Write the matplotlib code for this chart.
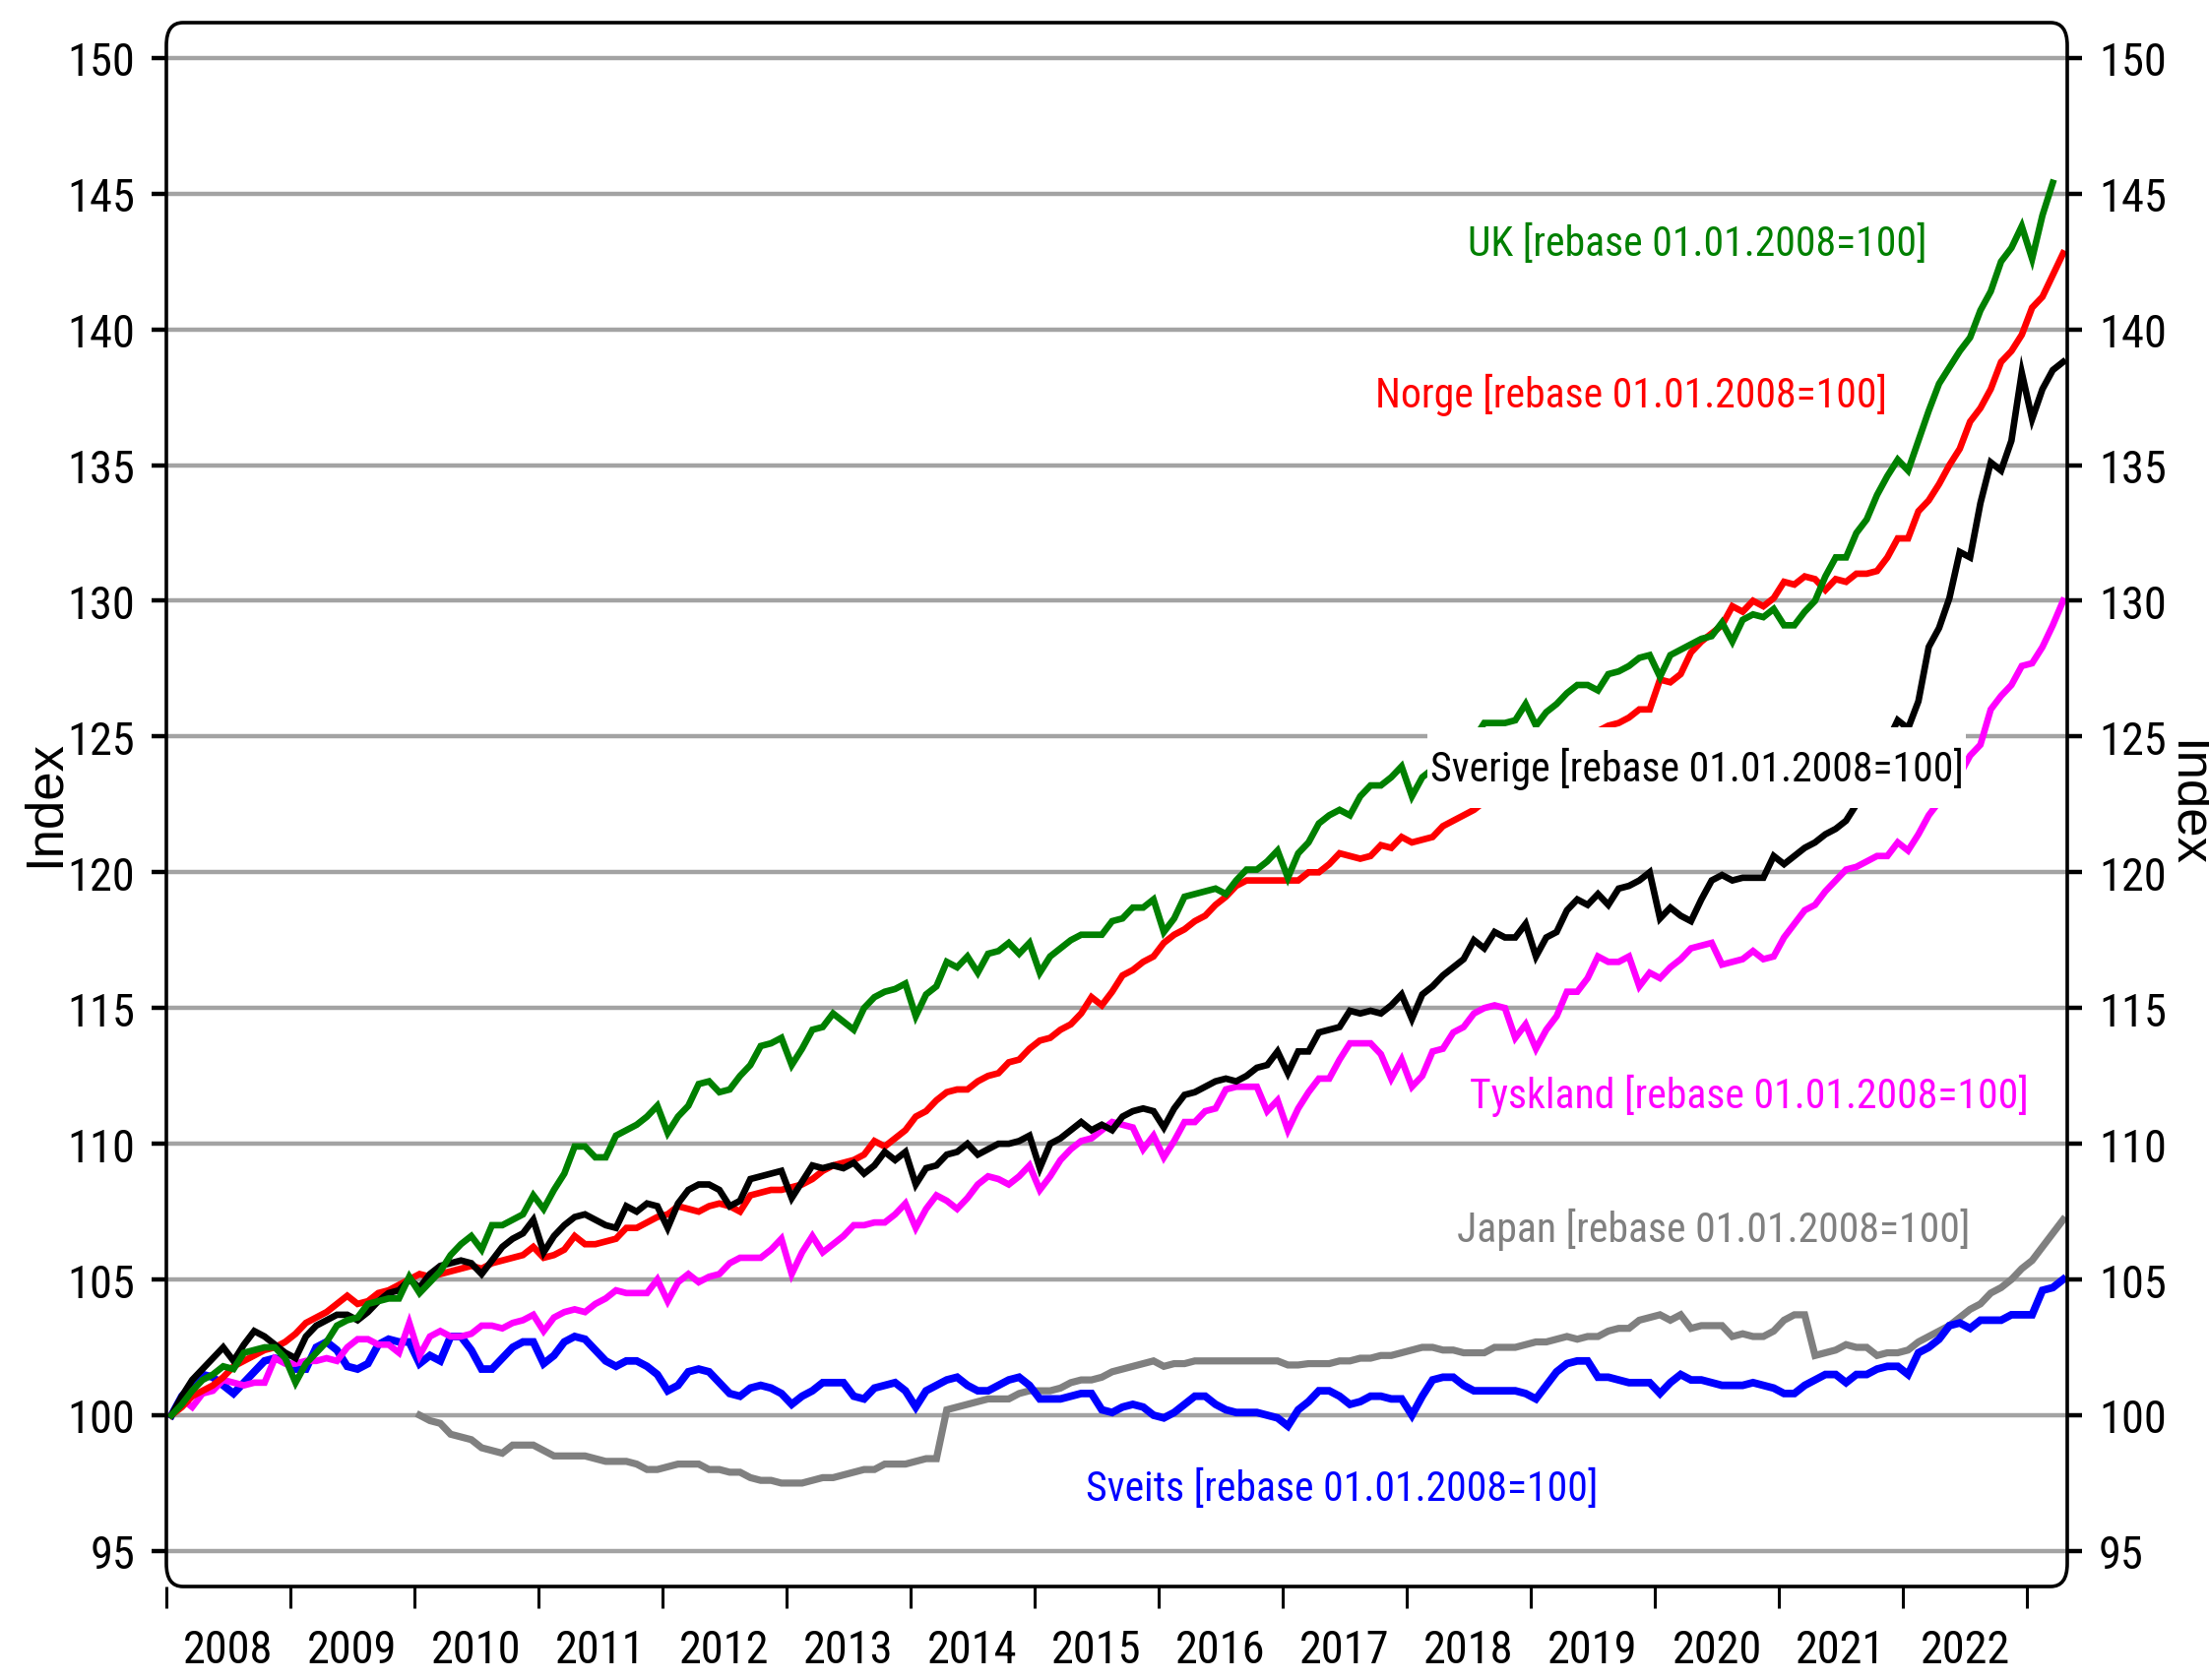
import os
import numpy as np
import matplotlib
matplotlib.use("Agg")
import matplotlib.pyplot as plt
from matplotlib import font_manager as fm
from matplotlib.patches import FancyBboxPatch, Rectangle
from matplotlib.ticker import FixedLocator, FixedFormatter, NullFormatter


def pick_narrow_font():
    cands = [('Liberation Sans Narrow', 'normal'), ('Arial Narrow', 'normal'),
             ('Roboto Condensed', 'normal'), ('Noto Sans', 'condensed'),
             ('Noto Sans Condensed', 'normal'), ('Open Sans', 'condensed'),
             ('Open Sans Condensed', 'normal'), ('DejaVu Sans', 'condensed'),
             ('Roboto', 'condensed')]
    for fam, st in cands:
        try:
            path = fm.findfont(fm.FontProperties(family=fam, stretch=st),
                               fallback_to_default=False)
        except Exception:
            continue
        base = os.path.basename(path).lower()
        if 'narrow' in base or 'condensed' in base or 'cond' in base:
            return fam, st
    return 'Liberation Sans', 'normal'


FAM, STRETCH = pick_narrow_font()
plt.rcParams['font.family'] = [FAM, 'DejaVu Sans']
plt.rcParams['font.stretch'] = STRETCH

# ---------------- data (monthly index, rebased 01.01.2008 = 100) ----------------
start_year = 2008
years = list(range(2008, 2023))          # labelled years
year_ticks = list(range(2008, 2024))     # year boundaries

uk = [
    100.0, 100.4, 100.9, 101.3, 101.5, 101.8, 101.7, 102.3, 102.4, 102.5, 102.5, 102.1,
    101.2, 101.9, 102.3, 102.7, 103.3, 103.5, 103.6, 104.1, 104.2, 104.3, 104.3, 105.1,
    104.5, 104.9, 105.3, 105.9, 106.3, 106.6, 106.1, 107.0, 107.0, 107.2, 107.4, 108.1,
    107.6, 108.3, 108.9, 109.9, 109.9, 109.5, 109.5, 110.3, 110.5, 110.7, 111.0, 111.4,
    110.4, 111.0, 111.4, 112.2, 112.3, 111.9, 112.0, 112.5, 112.9, 113.6, 113.7, 113.9,
    112.9, 113.5, 114.2, 114.3, 114.8, 114.5, 114.2, 115.0, 115.4, 115.6, 115.7, 115.9,
    114.7, 115.5, 115.8, 116.7, 116.5, 116.9, 116.3, 117.0, 117.1, 117.4, 117.0, 117.4,
    116.3, 116.9, 117.2, 117.5, 117.7, 117.7, 117.7, 118.2, 118.3, 118.7, 118.7, 119.0,
    117.8, 118.3, 119.1, 119.2, 119.3, 119.4, 119.2, 119.7, 120.1, 120.1, 120.4, 120.8,
    119.8, 120.7, 121.1, 121.8, 122.1, 122.3, 122.1, 122.8, 123.2, 123.2, 123.5, 123.9,
    122.8, 123.5, 123.8, 124.2, 124.5, 124.7, 124.9, 125.5, 125.5, 125.5, 125.6, 126.2,
    125.4, 125.9, 126.2, 126.6, 126.9, 126.9, 126.7, 127.3, 127.4, 127.6, 127.9, 128.0,
    127.2, 128.0, 128.2, 128.4, 128.6, 128.7, 129.2, 128.5, 129.3, 129.5, 129.4, 129.7,
    129.1, 129.1, 129.6, 130.0, 130.9, 131.6, 131.6, 132.5, 133.0, 133.9, 134.6, 135.2,
    134.8, 135.9, 137.0, 138.0, 138.6, 139.2, 139.7, 140.7, 141.4, 142.5, 143.0, 143.8,
    142.6, 144.2, 145.4,
]

norge = [
    100.0, 100.3, 100.7, 100.9, 101.1, 101.4, 101.8, 102.0, 102.2, 102.4, 102.5, 102.7,
    103.0, 103.4, 103.6, 103.8, 104.1, 104.4, 104.1, 104.2, 104.5, 104.6, 104.8, 105.0,
    105.2, 105.1, 105.2, 105.3, 105.4, 105.5, 105.4, 105.6, 105.7, 105.8, 105.9, 106.2,
    105.8, 105.9, 106.1, 106.6, 106.3, 106.3, 106.4, 106.5, 106.9, 106.9, 107.1, 107.3,
    107.4, 107.7, 107.6, 107.5, 107.7, 107.8, 107.7, 107.5, 108.1, 108.2, 108.3, 108.3,
    108.4, 108.5, 108.7, 109.0, 109.2, 109.3, 109.4, 109.6, 110.1, 109.9, 110.2, 110.5,
    111.0, 111.2, 111.6, 111.9, 112.0, 112.0, 112.3, 112.5, 112.6, 113.0, 113.1, 113.5,
    113.8, 113.9, 114.2, 114.4, 114.8, 115.4, 115.1, 115.6, 116.2, 116.4, 116.7, 116.9,
    117.4, 117.7, 117.9, 118.2, 118.4, 118.8, 119.1, 119.5, 119.7, 119.7, 119.7, 119.7,
    119.7, 119.7, 120.0, 120.0, 120.3, 120.7, 120.6, 120.5, 120.6, 121.0, 120.9, 121.3,
    121.1, 121.2, 121.3, 121.7, 121.9, 122.1, 122.3, 122.6, 122.9, 123.2, 123.5, 123.7,
    123.9, 124.2, 124.4, 124.6, 124.8, 125.0, 125.2, 125.4, 125.5, 125.7, 126.0, 126.0,
    127.1, 127.0, 127.3, 128.1, 128.5, 128.8, 129.1, 129.8, 129.6, 130.0, 129.8, 130.1,
    130.7, 130.6, 130.9, 130.8, 130.4, 130.8, 130.7, 131.0, 131.0, 131.1, 131.6, 132.3,
    132.3, 133.3, 133.7, 134.3, 135.0, 135.6, 136.6, 137.1, 137.8, 138.8, 139.2, 139.8,
    140.8, 141.2, 142.0, 142.8,
]

sverige = [
    100.0, 100.7, 101.3, 101.7, 102.1, 102.5, 102.0, 102.6, 103.1, 102.9, 102.6, 102.3,
    102.1, 102.9, 103.3, 103.5, 103.7, 103.7, 103.5, 103.8, 104.2, 104.5, 104.6, 105.0,
    104.7, 105.2, 105.5, 105.6, 105.7, 105.6, 105.2, 105.7, 106.2, 106.5, 106.7, 107.2,
    106.0, 106.6, 107.0, 107.3, 107.4, 107.2, 107.0, 106.9, 107.7, 107.5, 107.8, 107.7,
    106.9, 107.8, 108.3, 108.5, 108.5, 108.3, 107.7, 107.9, 108.7, 108.8, 108.9, 109.0,
    108.0, 108.6, 109.2, 109.1, 109.2, 109.1, 109.3, 108.9, 109.2, 109.7, 109.4, 109.7,
    108.5, 109.1, 109.2, 109.6, 109.7, 110.0, 109.6, 109.8, 110.0, 110.0, 110.1, 110.3,
    109.1, 110.0, 110.2, 110.5, 110.8, 110.5, 110.7, 110.5, 111.0, 111.2, 111.3, 111.2,
    110.6, 111.3, 111.8, 111.9, 112.1, 112.3, 112.4, 112.3, 112.5, 112.8, 112.9, 113.4,
    112.6, 113.4, 113.4, 114.1, 114.2, 114.3, 114.9, 114.8, 114.9, 114.8, 115.1, 115.5,
    114.6, 115.5, 115.8, 116.2, 116.5, 116.8, 117.5, 117.2, 117.8, 117.6, 117.6, 118.1,
    116.9, 117.6, 117.8, 118.6, 119.0, 118.8, 119.2, 118.8, 119.4, 119.5, 119.7, 120.0,
    118.3, 118.7, 118.4, 118.2, 119.0, 119.7, 119.9, 119.7, 119.8, 119.8, 119.8, 120.6,
    120.3, 120.6, 120.9, 121.1, 121.4, 121.6, 121.9, 122.5, 123.3, 124.0, 124.8, 125.6,
    125.3, 126.3, 128.3, 129.0, 130.1, 131.8, 131.6, 133.6, 135.1, 134.8, 135.9, 138.4,
    136.7, 137.8, 138.5, 138.8,
]

tyskland = [
    100.0, 100.6, 100.3, 100.8, 100.9, 101.3, 101.2, 101.1, 101.2, 101.2, 102.1, 101.9,
    101.9, 102.0, 102.0, 102.1, 102.0, 102.5, 102.8, 102.8, 102.6, 102.6, 102.3, 103.4,
    102.2, 102.9, 103.1, 102.9, 102.9, 103.0, 103.3, 103.3, 103.2, 103.4, 103.5, 103.7,
    103.1, 103.6, 103.8, 103.9, 103.8, 104.1, 104.3, 104.6, 104.5, 104.5, 104.5, 105.0,
    104.2, 104.9, 105.2, 104.9, 105.1, 105.2, 105.6, 105.8, 105.8, 105.8, 106.1, 106.5,
    105.2, 106.0, 106.6, 106.0, 106.3, 106.6, 107.0, 107.0, 107.1, 107.1, 107.4, 107.8,
    106.9, 107.6, 108.1, 107.9, 107.6, 108.0, 108.5, 108.8, 108.7, 108.5, 108.8, 109.2,
    108.3, 108.8, 109.4, 109.8, 110.1, 110.2, 110.5, 110.8, 110.7, 110.6, 109.8, 110.3,
    109.5, 110.1, 110.8, 110.8, 111.2, 111.3, 112.0, 112.1, 112.1, 112.1, 111.2, 111.6,
    110.5, 111.3, 111.9, 112.4, 112.4, 113.1, 113.7, 113.7, 113.7, 113.3, 112.4, 113.1,
    112.1, 112.5, 113.4, 113.5, 114.1, 114.3, 114.8, 115.0, 115.1, 115.0, 113.9, 114.4,
    113.5, 114.2, 114.7, 115.6, 115.6, 116.1, 116.9, 116.7, 116.7, 116.9, 115.8, 116.3,
    116.1, 116.5, 116.8, 117.2, 117.3, 117.4, 116.6, 116.7, 116.8, 117.1, 116.8, 116.9,
    117.6, 118.1, 118.6, 118.8, 119.3, 119.7, 120.1, 120.2, 120.4, 120.6, 120.6, 121.1,
    120.8, 121.4, 122.1, 122.6, 123.1, 123.6, 124.3, 124.7, 126.0, 126.5, 126.9, 127.6,
    127.7, 128.3, 129.1, 130.0,
]

japan_start_year = 2010
japan = [
    100.0, 99.8, 99.7, 99.3, 99.2, 99.1, 98.8, 98.7, 98.6, 98.9, 98.9, 98.9,
    98.7, 98.5, 98.5, 98.5, 98.5, 98.4, 98.3, 98.3, 98.3, 98.2, 98.0, 98.0,
    98.1, 98.2, 98.2, 98.2, 98.0, 98.0, 97.9, 97.9, 97.7, 97.6, 97.6, 97.5,
    97.5, 97.5, 97.6, 97.7, 97.7, 97.8, 97.9, 98.0, 98.0, 98.2, 98.2, 98.2,
    98.3, 98.4, 98.4, 100.2, 100.3, 100.4, 100.5, 100.6, 100.6, 100.6, 100.8, 100.9,
    100.9, 100.9, 101.0, 101.2, 101.3, 101.3, 101.4, 101.6, 101.7, 101.8, 101.9, 102.0,
    101.8, 101.9, 101.9, 102.0, 102.0, 102.0, 102.0, 102.0, 102.0, 102.0, 102.0, 102.0,
    101.85, 101.85, 101.9, 101.9, 101.9, 102.0, 102.0, 102.1, 102.1, 102.2, 102.2, 102.3,
    102.4, 102.5, 102.5, 102.4, 102.4, 102.3, 102.3, 102.3, 102.5, 102.5, 102.5, 102.6,
    102.7, 102.7, 102.8, 102.9, 102.8, 102.9, 102.9, 103.1, 103.2, 103.2, 103.5, 103.6,
    103.7, 103.5, 103.7, 103.2, 103.3, 103.3, 103.3, 102.9, 103.0, 102.9, 102.9, 103.1,
    103.5, 103.7, 103.7, 102.2, 102.3, 102.4, 102.6, 102.5, 102.5, 102.2, 102.3, 102.3,
    102.4, 102.7, 102.9, 103.1, 103.3, 103.6, 103.9, 104.1, 104.5, 104.7, 105.0, 105.4,
    105.7, 106.2, 106.7, 107.2,
]

sveits = [
    100.0, 100.7, 101.1, 101.5, 101.4, 101.1, 100.8, 101.2, 101.6, 102.0, 102.1, 102.0,
    101.7, 101.7, 102.5, 102.7, 102.4, 101.8, 101.7, 101.9, 102.6, 102.8, 102.7, 102.7,
    101.9, 102.2, 102.0, 102.9, 102.9, 102.4, 101.7, 101.7, 102.1, 102.5, 102.7, 102.7,
    101.9, 102.2, 102.7, 102.9, 102.8, 102.4, 102.0, 101.8, 102.0, 102.0, 101.8, 101.5,
    100.9, 101.1, 101.6, 101.7, 101.6, 101.2, 100.8, 100.7, 101.0, 101.1, 101.0, 100.8,
    100.4, 100.7, 100.9, 101.2, 101.2, 101.2, 100.7, 100.6, 101.0, 101.1, 101.2, 100.9,
    100.3, 100.9, 101.1, 101.3, 101.4, 101.1, 100.9, 100.9, 101.1, 101.3, 101.4, 101.1,
    100.6, 100.6, 100.6, 100.7, 100.8, 100.8, 100.2, 100.1, 100.3, 100.4, 100.3, 100.0,
    99.9, 100.1, 100.4, 100.7, 100.7, 100.4, 100.2, 100.1, 100.1, 100.1, 100.0, 99.9,
    99.6, 100.2, 100.5, 100.9, 100.9, 100.7, 100.4, 100.5, 100.7, 100.7, 100.6, 100.6,
    100.0, 100.7, 101.3, 101.4, 101.4, 101.1, 100.9, 100.9, 100.9, 100.9, 100.9, 100.8,
    100.6, 101.1, 101.6, 101.9, 102.0, 102.0, 101.4, 101.4, 101.3, 101.2, 101.2, 101.2,
    100.8, 101.2, 101.5, 101.3, 101.3, 101.2, 101.1, 101.1, 101.1, 101.2, 101.1, 101.0,
    100.8, 100.8, 101.1, 101.3, 101.5, 101.5, 101.2, 101.5, 101.5, 101.7, 101.8, 101.8,
    101.5, 102.3, 102.5, 102.8, 103.3, 103.4, 103.2, 103.5, 103.5, 103.5, 103.7, 103.7,
    103.7, 104.6, 104.7, 105.0,
]

label_suffix = " [rebase 01.01.2008=100]"
series = [
    # name, values, first year, colour, line width
    ("Japan", japan, japan_start_year, "#808080", 2.6),
    ("Sveits", sveits, start_year, "#0000FF", 2.8),
    ("Tyskland", tyskland, start_year, "#FF00FF", 2.4),
    ("Norge", norge, start_year, "#FF0000", 2.4),
    ("Sverige", sverige, start_year, "#000000", 2.4),
    ("UK", uk, start_year, "#008000", 2.4),
]

# label anchor positions (decimal year, index value)
label_pos = {
    "UK": (2020.34, 143.17),
    "Norge": (2019.81, 137.61),
    "Sverige": (2020.34, 123.84),
    "Tyskland": (2020.76, 111.79),
    "Japan": (2020.47, 106.86),
    "Sveits": (2017.48, 97.30),
}
# white panel behind the Sverige label (decimal year / index extent)
sverige_box_x = (2018.17, 2022.51)
sverige_box_y = (122.35, 125.35)

# ---------------- figure ----------------
W, H = 2244, 1708
DPI = 200
fig = plt.figure(figsize=(W / DPI, H / DPI), dpi=DPI)
left, right, bottom, top = 169 / W, 2100 / W, 1 - 1613 / H, 1 - 24 / H
ax = fig.add_axes([left, bottom, right - left, top - bottom])

for name, vals, y0, col, lw in series:
    v = np.asarray(vals, dtype=float)
    x = y0 + (np.arange(len(v)) + 0.5) / 12.0
    ax.plot(x, v, color=col, lw=lw, solid_joinstyle='miter', zorder=3)

ax.set_xlim(2008.0, 2023.325)
ax.set_ylim(93.69, 151.3)

# y axis: ticks both sides
yt = list(range(95, 151, 5))
ax.set_yticks(yt)
ax.grid(axis='y', color='#a3a3a3', lw=1.6, zorder=1)
ax.grid(axis='x', visible=False)
ax.set_axisbelow(True)
ax.tick_params(axis='y', which='major', left=True, right=True,
               labelleft=True, labelright=True, length=5.5, width=1.6,
               direction='out', pad=6, labelsize=16)

# x axis: ticks at year boundaries, labels centred in each year
ax.xaxis.set_major_locator(FixedLocator(year_ticks))
ax.xaxis.set_major_formatter(NullFormatter())
ax.xaxis.set_minor_locator(FixedLocator([y + 0.5 for y in years]))
ax.xaxis.set_minor_formatter(FixedFormatter([str(y) for y in years]))
ax.tick_params(axis='x', which='major', length=8, width=1.1, direction='out')
ax.tick_params(axis='x', which='minor', length=0, pad=15, labelsize=16)

for s in ax.spines.values():
    s.set_visible(False)

# rounded frame
frame = FancyBboxPatch((left, bottom), right - left, top - bottom,
                       boxstyle="round,pad=0,rounding_size=0.0075",
                       mutation_aspect=1.8, transform=fig.transFigure,
                       fill=False, ec='black', lw=1.3, clip_on=False, zorder=6)
fig.patches.append(frame)

# white panel that hides the lines behind the Sverige label
ax.add_patch(Rectangle((sverige_box_x[0], sverige_box_y[0]),
                       sverige_box_x[1] - sverige_box_x[0],
                       sverige_box_y[1] - sverige_box_y[0],
                       facecolor='white', edgecolor='none', zorder=9))

# series labels
texts = {}
for name, vals, y0, col, lw in series:
    xl, yl = label_pos[name]
    texts[name] = ax.text(xl, yl, name + label_suffix, color=col, fontsize=15,
                          ha='center', va='center', zorder=10)

# axis titles
fig.text(46 / W, 1 - 817 / H, "Index", rotation=90, ha='center', va='center',
         fontsize=19, family=['Liberation Sans', 'DejaVu Sans'])
fig.text(2222 / W, 1 - 817 / H, "Index", rotation=270, ha='center', va='center',
         fontsize=19, family=['Liberation Sans', 'DejaVu Sans'])

# ---- match text sizes of the reference (whatever narrow font is present) ----
fig.canvas.draw()
r = fig.canvas.get_renderer()
uk_w = texts["UK"].get_window_extent(r).width
k_lab = 448.0 / uk_w * 1.04
for t in texts.values():
    t.set_fontsize(15 * k_lab)

ylab = [t for t in ax.get_yticklabels() if t.get_text() == '150'][0]
k_tick = 61.5 / ylab.get_window_extent(r).width * 1.12
ax.tick_params(axis='y', labelsize=16 * k_tick)
ax.tick_params(axis='x', which='minor', labelsize=16 * k_tick)

fig.savefig("out.png", dpi=DPI, facecolor='white')
